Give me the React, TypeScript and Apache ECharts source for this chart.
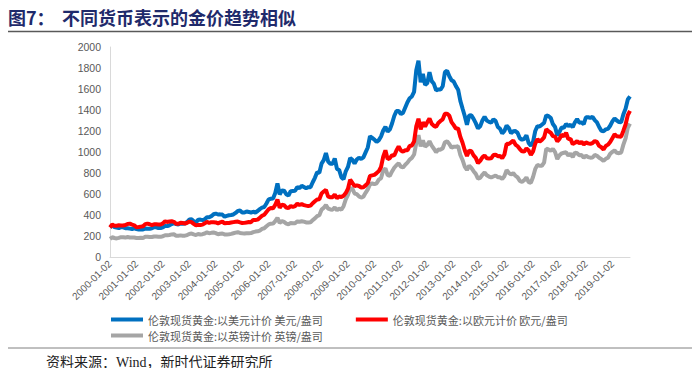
import React, { useEffect, useRef } from "react";
import * as echarts from "echarts";

// Monthly points, labelled with the 2nd of each month (2000-01 .. 2019-09)
const startYear = 2000;
const endYear = 2019;
const lastMonth = 9;
const dates: string[] = [];
for (let y = startYear; y <= endYear; y++) {
  for (let m = 1; m <= 12; m++) {
    if (y === endYear && m > lastMonth) break;
    dates.push(`${y}-${String(m).padStart(2, "0")}-02`);
  }
}

const seriesNames = [
  "伦敦现货黄金:以美元计价 美元/盎司",
  "伦敦现货黄金:以欧元计价 欧元/盎司",
  "伦敦现货黄金:以英镑计价 英镑/盎司",
];

const usd = [
  284, 300, 286, 280, 275, 286, 282, 274, 274, 270, 266, 272,
  266, 262, 263, 261, 272, 270, 268, 273, 284, 283, 276, 276,
  282, 296, 294, 302, 314, 322, 314, 310, 319, 317, 319, 333,
  357, 359, 340, 328, 355, 356, 351, 359, 379, 379, 389, 407,
  414, 405, 406, 404, 384, 392, 398, 400, 405, 420, 439, 442,
  424, 423, 434, 429, 422, 431, 424, 438, 456, 470, 476, 510,
  549, 555, 557, 610, 700, 596, 633, 632, 598, 586, 627, 629,
  631, 665, 655, 679, 667, 655, 665, 665, 712, 754, 806, 803,
  889, 922, 990, 909, 888, 889, 939, 839, 829, 760, 740, 816,
  858, 943, 925, 890, 928, 946, 934, 949, 996, 1043, 1150, 1134,
  1118, 1095, 1113, 1148, 1205, 1240, 1193, 1215, 1271, 1343, 1390, 1391,
  1360, 1374, 1424, 1474, 1512, 1529, 1572, 1780, 1870, 1665, 1745, 1640,
  1656, 1760, 1675, 1649, 1586, 1596, 1594, 1626, 1760, 1775, 1722, 1684,
  1671, 1627, 1593, 1487, 1414, 1343, 1260, 1347, 1349, 1316, 1275, 1225,
  1244, 1300, 1336, 1299, 1287, 1279, 1311, 1296, 1239, 1222, 1176, 1201,
  1251, 1227, 1179, 1198, 1199, 1182, 1131, 1117, 1125, 1159, 1086, 1060,
  1097, 1200, 1246, 1242, 1260, 1276, 1350, 1341, 1326, 1266, 1238, 1157,
  1192, 1234, 1231, 1266, 1246, 1260, 1236, 1283, 1314, 1279, 1282, 1265,
  1331, 1331, 1325, 1335, 1303, 1282, 1238, 1202, 1198, 1215, 1220, 1250,
  1291, 1320, 1300, 1286, 1284, 1359, 1413, 1500, 1530,
];

const eur = [
  281, 309, 298, 298, 302, 301, 300, 304, 315, 318, 309, 302,
  283, 285, 289, 293, 313, 318, 312, 303, 312, 311, 310, 310,
  320, 340, 334, 339, 341, 335, 317, 316, 326, 323, 319, 326,
  337, 332, 315, 301, 306, 304, 308, 321, 335, 324, 332, 331,
  329, 321, 330, 337, 320, 324, 324, 328, 332, 336, 338, 330,
  324, 325, 329, 333, 332, 353, 353, 356, 374, 392, 403, 429,
  454, 466, 464, 496, 547, 469, 498, 494, 471, 465, 486, 477,
  485, 508, 496, 503, 494, 489, 485, 489, 512, 531, 548, 550,
  605, 623, 639, 575, 569, 570, 594, 559, 576, 571, 583, 609,
  650, 737, 706, 674, 682, 676, 662, 664, 682, 705, 772, 777,
  782, 799, 818, 857, 956, 1016, 932, 942, 970, 966, 1015, 1054,
  1015, 1003, 1017, 1017, 1057, 1062, 1099, 1245, 1317, 1215, 1283, 1242,
  1284, 1320, 1269, 1249, 1239, 1277, 1296, 1311, 1364, 1365, 1345, 1285,
  1256, 1223, 1225, 1144, 1088, 1017, 962, 1013, 1007, 968, 944, 894,
  915, 949, 968, 941, 939, 940, 971, 974, 960, 962, 941, 976,
  1078, 1076, 1092, 1109, 1071, 1055, 1028, 1006, 1004, 1035, 1015, 972,
  1006, 1081, 1123, 1099, 1115, 1139, 1216, 1197, 1184, 1151, 1146, 1102,
  1125, 1164, 1150, 1183, 1123, 1125, 1075, 1087, 1104, 1084, 1096, 1072,
  1091, 1082, 1077, 1085, 1104, 1096, 1058, 1045, 1024, 1057, 1070, 1096,
  1132, 1168, 1150, 1148, 1146, 1203, 1262, 1351, 1391,
];

const gbp = [
  173, 188, 181, 177, 182, 189, 188, 185, 190, 186, 186, 185,
  181, 181, 183, 181, 192, 193, 190, 190, 195, 195, 192, 192,
  197, 208, 207, 210, 215, 216, 203, 203, 206, 203, 203, 209,
  220, 224, 215, 209, 219, 214, 217, 224, 235, 226, 230, 233,
  227, 217, 222, 224, 215, 214, 216, 220, 226, 232, 236, 229,
  226, 224, 227, 227, 228, 237, 242, 245, 252, 267, 274, 293,
  310, 317, 318, 341, 374, 324, 342, 334, 318, 312, 323, 321,
  322, 339, 336, 341, 337, 329, 328, 331, 352, 368, 389, 398,
  451, 468, 495, 461, 453, 451, 472, 444, 463, 450, 484, 548,
  592, 655, 651, 605, 599, 577, 566, 575, 611, 644, 693, 700,
  694, 702, 737, 750, 825, 844, 780, 774, 815, 850, 874, 892,
  861, 853, 879, 899, 928, 944, 976, 1085, 1160, 1054, 1111, 1051,
  1068, 1103, 1060, 1031, 997, 1023, 1022, 1036, 1093, 1102, 1076, 1040,
  1051, 1050, 1055, 972, 924, 861, 829, 869, 848, 817, 792, 747,
  754, 783, 805, 778, 766, 757, 767, 776, 760, 759, 744, 770,
  828, 802, 786, 799, 774, 758, 725, 716, 731, 758, 714, 707,
  762, 839, 877, 869, 869, 899, 1031, 1024, 1012, 1029, 998, 933,
  969, 987, 993, 997, 966, 984, 951, 995, 988, 969, 971, 944,
  965, 951, 946, 947, 972, 964, 945, 932, 915, 935, 946, 984,
  1001, 1015, 992, 989, 995, 1070, 1130, 1230, 1270,
];

const colors = ["#0070C0", "#FF0000", "#A5A5A5"];

export default function App() {
  const ref = useRef<HTMLDivElement>(null);
  useEffect(() => {
    if (!ref.current) return;
    const chart = echarts.init(ref.current, undefined, { renderer: "svg" });
    const legendText = {
      fontSize: 11,
      color: "#595959",
      fontFamily: "'Noto Sans CJK SC', sans-serif",
    };
    chart.setOption({
      animation: false,
      backgroundColor: "#ffffff",
      grid: { left: 110, right: 70, top: 47, bottom: 119, containLabel: false },
      legend: [
        {
          left: 106,
          top: 309,
          data: [seriesNames[0], seriesNames[1]],
          icon: "rect",
          itemWidth: 32,
          itemHeight: 4,
          itemGap: 33,
          textStyle: legendText,
        },
        {
          left: 106,
          top: 325,
          data: [seriesNames[2]],
          icon: "rect",
          itemWidth: 32,
          itemHeight: 4,
          textStyle: legendText,
        },
      ],
      xAxis: {
        type: "category",
        data: dates,
        boundaryGap: false,
        axisLine: { lineStyle: { color: "#D9D9D9", width: 1 } },
        axisTick: { show: false },
        axisLabel: {
          interval: (index: number) => index % 12 === 0,
          rotate: 45,
          fontSize: 10,
          color: "#595959",
          fontFamily: "'Liberation Sans', sans-serif",
          margin: 5,
        },
        splitLine: { show: false },
      },
      yAxis: {
        type: "value",
        min: 0,
        max: 2000,
        interval: 200,
        axisLine: { show: true, lineStyle: { color: "#D9D9D9", width: 1 } },
        axisTick: { show: false },
        splitLine: { show: false },
        axisLabel: {
          fontSize: 10.5,
          color: "#595959",
          fontFamily: "'Liberation Sans', sans-serif",
          margin: 9,
          formatter: (v: number) => String(v),
        },
      },
      series: [
        { name: seriesNames[0], data: usd, color: colors[0] },
        { name: seriesNames[2], data: gbp, color: colors[2] },
        { name: seriesNames[1], data: eur, color: colors[1] },
      ].map((s) => ({
        ...s,
        type: "line",
        showSymbol: false,
        symbol: "none",
        lineStyle: { width: 4, color: s.color },
        itemStyle: { color: s.color },
      })),
      graphic: [
        {
          type: "text",
          left: 8,
          top: 8,
          style: {
            text: "图7：",
            fontSize: 18,
            fontWeight: "bold",
            fill: "#1F2A6B",
            fontFamily: "'Noto Sans CJK SC', sans-serif",
          },
        },
        {
          type: "text",
          left: 62,
          top: 8,
          style: {
            text: "不同货币表示的金价趋势相似",
            fontSize: 18,
            fontWeight: "bold",
            fill: "#1F2A6B",
            fontFamily: "'Noto Sans CJK SC', sans-serif",
          },
        },
        {
          type: "line",
          shape: { x1: 5, y1: 31.5, x2: 698, y2: 31.5 },
          style: { stroke: "#595959", lineWidth: 1.5 },
        },
        {
          type: "line",
          shape: { x1: 5, y1: 348, x2: 698, y2: 348 },
          style: { stroke: "#808080", lineWidth: 1 },
        },
        {
          type: "text",
          left: 46,
          top: 355,
          style: {
            text: "资料来源：Wind，新时代证券研究所",
            fontSize: 14,
            fill: "#222222",
            fontFamily: "'Liberation Serif', 'Noto Sans CJK SC', serif",
          },
        },
      ],
    });
    return () => chart.dispose();
  }, []);
  return <div ref={ref} style={{ width: 700, height: 376, margin: -8 }} />;
}
